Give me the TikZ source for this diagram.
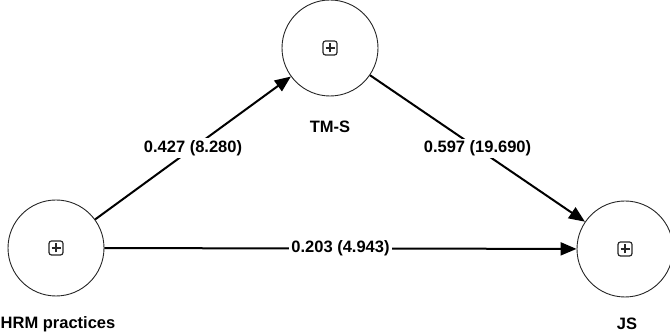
\documentclass[tikz,border=0pt]{standalone}
\usepackage{fontspec}
\setmainfont{Liberation Sans}
\usetikzlibrary{arrows.meta}

\tikzset{
  latent/.style={draw=black!85,circle,line width=0.9pt,minimum size=96pt,inner sep=0pt},
  plusbox/.style={draw=black!85,rounded corners=2.5pt,line width=1.2pt,minimum size=14pt,inner sep=0pt,
    path picture={
      \draw[line width=1.1pt] ([xshift=-4.5pt]path picture bounding box.center) -- ++(9pt,0);
      \draw[line width=1.1pt] ([yshift=-4.5pt]path picture bounding box.center) -- ++(0,9pt);
    }},
  varname/.style={font=\fontsize{16.5}{18}\selectfont\bfseries},
  coef/.style={fill=white,inner sep=2pt,font=\fontsize{16.5}{18}\selectfont\bfseries},
  effect/.style={line width=2pt,-{Triangle[length=16pt,width=13pt]}}
}

\begin{document}
\begin{tikzpicture}[x=1pt,y=1pt]
  \useasboundingbox (0,0) rectangle (670,336);
  % constructs
  \node[latent] (hrm) at (56,88) {};
  \node[latent] (tms) at (330,288) {};
  \node[latent] (js) at (625,87) {};
  \node[plusbox] (hrmbox) at (hrm.center) {};
  \node[plusbox] (tmsbox) at (tms.center) {};
  \node[plusbox] (jsbox) at (js.center) {};
  \node[varname] (hrmname) at (58,12) {HRM practices};
  \node[varname] (tmsname) at (330,209) {TM-S};
  \node[varname] (jsname) at (627,12) {JS};
  % paths
  \draw[effect] (hrm) -- node[coef] {0.427 (8.280)} (tms);
  \draw[effect] (tms) -- node[coef] {0.597 (19.690)} (js);
  \draw[effect] (hrm) -- node[coef] {0.203 (4.943)} (js);
\end{tikzpicture}
\end{document}
